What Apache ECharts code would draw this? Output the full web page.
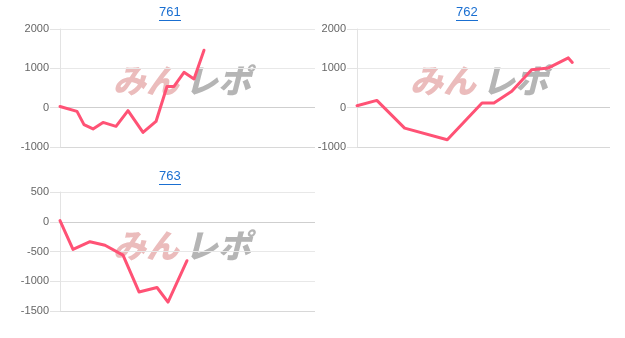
<!DOCTYPE html>
<html><head><meta charset="utf-8">
<script src="https://cdn.jsdelivr.net/npm/echarts@6/dist/echarts.min.js"></script>
<style>html,body{margin:0;padding:0;background:#fff}#c{width:625px;height:338px}</style>
</head><body><div id="c"></div>
<script>
// chart titles
const titles = ['761', '762', '763'];
// x positions (relative progress units) and values for each chart
const x761 = [0, 17, 24, 33, 43, 56, 68, 83, 96, 107, 114, 124, 134, 144];
const y761 = [30, -95, -430, -540, -375, -475, -75, -630, -350, 540, 540, 900, 730, 1460];
const x762 = [0, 20, 48, 91, 126, 138, 156, 176, 193, 213, 217];
const y762 = [50, 185, -520, -815, 120, 120, 415, 965, 1010, 1265, 1150];
const x763 = [0, 13, 30, 45, 63, 79, 97, 108, 127];
const y763 = [20, -465, -335, -395, -560, -1180, -1105, -1350, -655];
// y axis ranges
const yRange761 = [-1000, 2000, 1000];
const yRange762 = [-1000, 2000, 1000];
const yRange763 = [-1500, 500, 500];

const zip = (xs, ys) => xs.map((x, i) => [x, ys[i]]);
const lineColor = '#ff5275';
const grids = [
  {left: 60, top: 29, width: 255, height: 118},
  {left: 357, top: 29, width: 253, height: 118},
  {left: 60, top: 192, width: 255, height: 119}
];
const ranges = [yRange761, yRange762, yRange763];
const datas = [zip(x761, y761), zip(x762, y762), zip(x763, y763)];

function splitColors(r) {
  const arr = [];
  for (let v = r[0]; v <= r[1]; v += r[2]) {
    arr.push(v === r[0] ? '#d8d8d8' : (v === 0 ? '#cfcfcf' : '#e8e8e8'));
  }
  return arr;
}

const xAxes = grids.map((g, i) => ({
  type: 'value', gridIndex: i, min: 0, max: 255,
  axisLine: {show: false}, axisTick: {show: false}, axisLabel: {show: false}, splitLine: {show: false}
}));
const yAxes = grids.map((g, i) => ({
  type: 'value', gridIndex: i, min: ranges[i][0], max: ranges[i][1], interval: ranges[i][2],
  axisLine: {show: true, lineStyle: {color: '#e3e3e3', width: 1}},
  axisTick: {show: true, length: 10, lineStyle: {color: '#e3e3e3'}},
  axisLabel: {color: '#666', fontSize: 11, fontFamily: 'Liberation Sans, Arial, sans-serif', margin: 11,
    formatter: v => String(v)},
  splitLine: {show: true, lineStyle: {color: splitColors(ranges[i]), width: 1}}
}));
const series = datas.map((d, i) => ({
  type: 'line', xAxisIndex: i, yAxisIndex: i, data: d, showSymbol: false, z: 5,
  lineStyle: {color: lineColor, width: 3, join: 'round', cap: 'round'},
  itemStyle: {color: lineColor}, animation: false
}));

const titlePos = [[170, 14], [467, 14], [170, 178]];
const wmPos = [[113, 80], [410, 80], [113, 245]];
const graphic = [];
titles.forEach((t, i) => {
  const [cx, cy] = titlePos[i];
  graphic.push({type: 'text', left: cx - 11, top: cy - 8, z: 10,
    style: {text: t, fill: '#1a6fd1', font: '13px "Liberation Sans", Arial, sans-serif'}});
  graphic.push({type: 'rect', shape: {x: cx - 11, y: cy + 6, width: 22, height: 1}, z: 10,
    style: {fill: '#1a6fd1'}});
});
wmPos.forEach(([x, y]) => {
  graphic.push({type: 'text', x: x, y: y, z: 0,
    style: {text: 'みん', fill: '#ebbcbc', textVerticalAlign: 'middle',
      font: 'italic 900 33px "Noto Sans CJK JP", sans-serif'}});
  graphic.push({type: 'text', x: x + 72, y: y, z: 0,
    style: {text: 'レポ', fill: '#b5b5b5', textVerticalAlign: 'middle',
      font: 'italic 900 33px "Noto Sans CJK JP", sans-serif'}});
});

const chart = echarts.init(document.getElementById('c'), null, {renderer: 'canvas'});
chart.setOption({
  animation: false,
  grid: grids,
  xAxis: xAxes,
  yAxis: yAxes,
  series: series,
  graphic: graphic
});
</script></body></html>
